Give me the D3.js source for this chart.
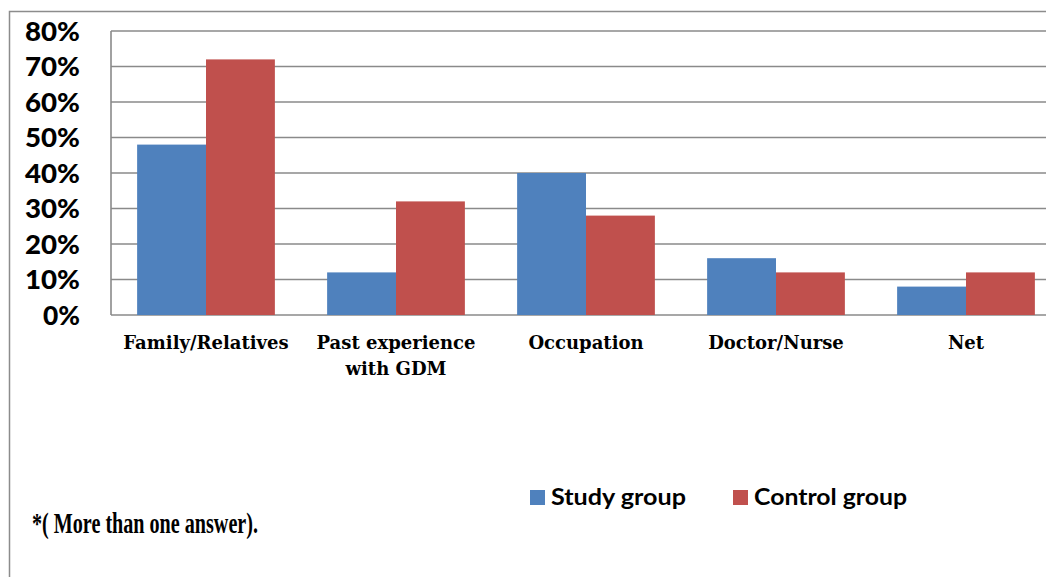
<!DOCTYPE html>
<html><head><meta charset="utf-8">
<script src="https://cdn.jsdelivr.net/npm/d3@7"></script>
<style>body{margin:0;background:#fff;}svg{display:block;}</style>
</head><body>
<svg id="c" width="1046" height="577"></svg>
<script>
const categories = ["Family/Relatives", "Past experience\nwith GDM", "Occupation", "Doctor/Nurse", "Net"];
const seriesNames = ["Study group", "Control group"];
const studyValues = [48, 12, 40, 16, 8];
const controlValues = [72, 32, 28, 12, 12];
const yTicks = [0, 10, 20, 30, 40, 50, 60, 70, 80];
const colors = ["#4F81BD", "#C0504D"];

(function () {
const svg = d3.select("#c");
// outer frame
svg.append("rect").attr("x", 9.5).attr("y", 11.5).attr("width", 1100).attr("height", 700)
  .attr("fill", "none").attr("stroke", "#8c8c8c").attr("stroke-width", 1.5);

const pLeft = 111, pTop = 31, pBottom = 315, pRight = 1061;
const x0 = d3.scaleBand().domain(categories).range([pLeft, pRight]).paddingInner(0.275).paddingOuter(0.1375);
const x1 = d3.scaleBand().domain(seriesNames).range([0, x0.bandwidth()]);
const y = d3.scaleLinear().domain([0, 80]).range([pBottom, pTop]);

// gridlines
svg.append("g").selectAll("line").data(yTicks).join("line")
  .attr("x1", pLeft).attr("x2", 1046).attr("y1", d => y(d)).attr("y2", d => y(d))
  .attr("stroke", "#8a8a8a").attr("stroke-width", 1.6);

// bars
const data = categories.map((c, i) => ({c, vals: [studyValues[i], controlValues[i]]}));
const g = svg.append("g").selectAll("g").data(data).join("g")
  .attr("transform", d => `translate(${x0(d.c)},0)`);
g.selectAll("rect").data(d => d.vals.map((v, j) => ({s: seriesNames[j], v, j}))).join("rect")
  .attr("x", d => x1(d.s)).attr("width", x1.bandwidth())
  .attr("y", d => y(d.v)).attr("height", d => y(0) - y(d.v))
  .attr("fill", d => colors[d.j]);

// axis line
svg.append("line").attr("x1", pLeft).attr("x2", pLeft).attr("y1", pTop).attr("y2", pBottom)
  .attr("stroke", "#8a8a8a").attr("stroke-width", 1.6);

// y tick labels
const yAxis = d3.axisLeft(y).tickValues(yTicks).tickFormat(d => d + "%").tickSize(0).tickPadding(31);
const ya = svg.append("g").attr("transform", `translate(${pLeft},0)`).call(yAxis);
ya.select(".domain").remove();
ya.selectAll("text").attr("font-family", "Lato, 'Open Sans', sans-serif").attr("font-weight", 900)
  .attr("font-size", 26).attr("fill", "#000").attr("dy", "0.36em")
  .attr("textLength", 55).attr("lengthAdjust", "spacingAndGlyphs");
ya.selectAll("text").filter(d => d === 0).attr("textLength", 37);

// x labels
const xl = svg.append("g").selectAll("text").data(categories).join("text")
  .attr("x", d => x0(d) + x0.bandwidth() / 2).attr("y", 349)
  .attr("text-anchor", "middle").attr("font-family", "'DejaVu Serif', serif").attr("font-weight", "bold")
  .attr("font-size", 18).attr("fill", "#000");
xl.each(function(d) {
  const lines = d.split("\n");
  d3.select(this).selectAll("tspan").data(lines).join("tspan")
    .attr("x", x0(d) + x0.bandwidth() / 2).attr("dy", (l, i) => i === 0 ? 0 : 26).text(l => l);
});

// legend
const legX = [530, 733];
const legW = [135, 153];
const lg = svg.append("g").selectAll("g").data(seriesNames).join("g")
  .attr("transform", (d, i) => `translate(${legX[i]},489)`);
lg.append("rect").attr("y", 1).attr("width", 15).attr("height", 15).attr("fill", (d, i) => colors[i]);
lg.append("text").attr("x", 21).attr("y", 16).text(d => d)
  .attr("font-family", "Lato, 'Open Sans', sans-serif").attr("font-weight", "bold").attr("font-size", 22).attr("fill", "#000")
  .attr("textLength", (d, i) => legW[i]).attr("lengthAdjust", "spacingAndGlyphs");

// footnote
svg.append("text").attr("x", 32).attr("y", 533).text("*( More than one answer).")
  .attr("font-family", "'Liberation Serif', serif").attr("font-weight", "bold").attr("font-size", 30)
  .attr("textLength", 226).attr("lengthAdjust", "spacingAndGlyphs").attr("fill", "#000");
})();
</script>
</body></html>
